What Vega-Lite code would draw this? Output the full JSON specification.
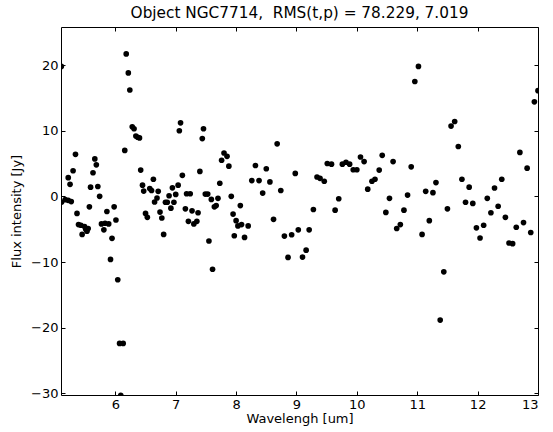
{
  "$schema": "https://vega.github.io/schema/vega-lite/v6.json",
  "width": 477,
  "height": 368,
  "autosize": "none",
  "padding": {"left": 61, "top": 27, "right": 15, "bottom": 37},
  "title": {"text": "Object NGC7714, \u00a0RMS(t,p) = 78.229, 7.019", "font": "DejaVu Sans", "fontSize": 15.3, "fontWeight": "normal", "color": "black", "offset": 5},
  "config": {
    "view": {"stroke": "black", "strokeWidth": 1},
    "axis": {"grid": false, "domain": false, "ticks": true, "tickColor": "black", "tickSize": -4, "tickWidth": 1, "labelFont": "DejaVu Sans", "labelFontSize": 13, "labelColor": "black", "titleFont": "DejaVu Sans", "titleFontSize": 13, "titleFontWeight": "normal", "titleColor": "black"}
  },
  "data": {"values": [
    {"w": 5.105, "f": 19.8}, {"w": 5.11, "f": -0.87}, {"w": 5.17, "f": -0.5}, {"w": 5.22, "f": -0.6}, {"w": 5.27, "f": -0.8},
    {"w": 5.22, "f": 2.85}, {"w": 5.25, "f": 1.83}, {"w": 5.30, "f": 3.9}, {"w": 5.34, "f": 6.4}, {"w": 5.365, "f": -2.6},
    {"w": 5.39, "f": -4.3}, {"w": 5.43, "f": -4.4}, {"w": 5.45, "f": -5.8}, {"w": 5.49, "f": -4.6}, {"w": 5.51, "f": -5.0},
    {"w": 5.53, "f": -5.3}, {"w": 5.55, "f": -4.9}, {"w": 5.57, "f": -1.6}, {"w": 5.59, "f": 1.4}, {"w": 5.63, "f": 3.6},
    {"w": 5.66, "f": 5.7}, {"w": 5.685, "f": 4.8}, {"w": 5.71, "f": 1.5}, {"w": 5.74, "f": 0.0}, {"w": 5.77, "f": -4.2},
    {"w": 5.81, "f": -5.1}, {"w": 5.83, "f": -4.1}, {"w": 5.86, "f": -2.3}, {"w": 5.89, "f": -4.2}, {"w": 5.92, "f": -9.6},
    {"w": 5.945, "f": -6.4}, {"w": 5.98, "f": -1.6}, {"w": 6.01, "f": -3.6}, {"w": 6.04, "f": -12.7}, {"w": 6.07, "f": -22.4},
    {"w": 6.09, "f": -30.3}, {"w": 6.13, "f": -22.4}, {"w": 6.156, "f": 7.0}, {"w": 6.18, "f": 21.7}, {"w": 6.215, "f": 18.8},
    {"w": 6.24, "f": 16.2}, {"w": 6.28, "f": 10.6}, {"w": 6.31, "f": 10.3}, {"w": 6.34, "f": 9.2}, {"w": 6.37, "f": 9.0},
    {"w": 6.40, "f": 8.9}, {"w": 6.42, "f": 4.0}, {"w": 6.45, "f": 1.7}, {"w": 6.47, "f": 0.8}, {"w": 6.50, "f": -2.6},
    {"w": 6.53, "f": -3.2}, {"w": 6.57, "f": 1.2}, {"w": 6.60, "f": 0.9}, {"w": 6.63, "f": 2.6}, {"w": 6.65, "f": -0.86},
    {"w": 6.69, "f": -0.25}, {"w": 6.71, "f": 0.76}, {"w": 6.74, "f": -2.4}, {"w": 6.77, "f": -3.3}, {"w": 6.80, "f": -5.8},
    {"w": 6.83, "f": -0.9}, {"w": 6.86, "f": -0.9}, {"w": 6.89, "f": 0.1}, {"w": 6.92, "f": -1.8}, {"w": 6.945, "f": 1.3},
    {"w": 6.97, "f": -0.9}, {"w": 7.0, "f": 0.3}, {"w": 7.04, "f": 1.7}, {"w": 7.06, "f": 10.0}, {"w": 7.08, "f": 11.2},
    {"w": 7.11, "f": 3.2}, {"w": 7.16, "f": -1.9}, {"w": 7.18, "f": 0.4}, {"w": 7.21, "f": -3.8}, {"w": 7.24, "f": 0.4},
    {"w": 7.27, "f": -2.2}, {"w": 7.30, "f": -4.2}, {"w": 7.35, "f": -3.8}, {"w": 7.37, "f": -2.5}, {"w": 7.40, "f": 3.8},
    {"w": 7.44, "f": 8.8}, {"w": 7.46, "f": 10.3}, {"w": 7.49, "f": 0.35}, {"w": 7.53, "f": 0.35}, {"w": 7.55, "f": -6.8},
    {"w": 7.59, "f": -0.46}, {"w": 7.61, "f": -11.1}, {"w": 7.64, "f": -1.6}, {"w": 7.67, "f": -1.4}, {"w": 7.70, "f": -0.3},
    {"w": 7.73, "f": 2.0}, {"w": 7.76, "f": 5.5}, {"w": 7.80, "f": 6.6}, {"w": 7.85, "f": 6.1}, {"w": 7.88, "f": 4.6},
    {"w": 7.92, "f": 0.0}, {"w": 7.95, "f": -2.7}, {"w": 7.97, "f": -6.0}, {"w": 8.0, "f": -3.7}, {"w": 8.03, "f": -4.5},
    {"w": 8.07, "f": -1.4}, {"w": 8.09, "f": -4.3}, {"w": 8.14, "f": -6.25}, {"w": 8.20, "f": -4.5}, {"w": 8.26, "f": 2.4},
    {"w": 8.32, "f": 4.7}, {"w": 8.38, "f": 2.4}, {"w": 8.44, "f": 0.5}, {"w": 8.50, "f": 4.2}, {"w": 8.56, "f": 2.2},
    {"w": 8.62, "f": -3.5}, {"w": 8.68, "f": 8.0}, {"w": 8.74, "f": 0.9}, {"w": 8.80, "f": -6.05}, {"w": 8.86, "f": -9.3},
    {"w": 8.92, "f": -5.85}, {"w": 8.98, "f": 3.5}, {"w": 9.03, "f": -5.1}, {"w": 9.10, "f": -9.25}, {"w": 9.16, "f": -8.2},
    {"w": 9.21, "f": -5.1}, {"w": 9.28, "f": -2.0}, {"w": 9.34, "f": 2.95}, {"w": 9.39, "f": 2.74}, {"w": 9.46, "f": 2.3},
    {"w": 9.51, "f": 5.0}, {"w": 9.58, "f": 4.9}, {"w": 9.64, "f": -2.1}, {"w": 9.70, "f": -0.36}, {"w": 9.76, "f": 4.9},
    {"w": 9.82, "f": 5.2}, {"w": 9.88, "f": 4.9}, {"w": 9.94, "f": 4.05}, {"w": 10.0, "f": 4.05}, {"w": 10.06, "f": 6.0},
    {"w": 10.12, "f": 5.3}, {"w": 10.18, "f": 1.1}, {"w": 10.25, "f": 2.3}, {"w": 10.30, "f": 2.6}, {"w": 10.37, "f": 4.0},
    {"w": 10.42, "f": 6.25}, {"w": 10.48, "f": -2.45}, {"w": 10.54, "f": -0.3}, {"w": 10.60, "f": 5.3}, {"w": 10.66, "f": -4.9},
    {"w": 10.72, "f": -4.3}, {"w": 10.78, "f": -2.1}, {"w": 10.84, "f": 0.2}, {"w": 10.90, "f": 4.5}, {"w": 10.96, "f": 17.5},
    {"w": 11.02, "f": 19.8}, {"w": 11.08, "f": -5.8}, {"w": 11.14, "f": 0.76}, {"w": 11.2, "f": -3.7}, {"w": 11.26, "f": 0.56},
    {"w": 11.31, "f": 2.1}, {"w": 11.38, "f": -18.85}, {"w": 11.44, "f": -11.5}, {"w": 11.50, "f": -1.9}, {"w": 11.56, "f": 10.7},
    {"w": 11.62, "f": 11.4}, {"w": 11.68, "f": 7.6}, {"w": 11.74, "f": 2.6}, {"w": 11.80, "f": -0.9}, {"w": 11.86, "f": 1.4},
    {"w": 11.92, "f": -1.07}, {"w": 11.98, "f": -4.8}, {"w": 12.04, "f": -6.35}, {"w": 12.10, "f": -4.4}, {"w": 12.16, "f": -0.3},
    {"w": 12.22, "f": -2.5}, {"w": 12.28, "f": 1.27}, {"w": 12.34, "f": -1.5}, {"w": 12.40, "f": 2.6}, {"w": 12.46, "f": -3.2},
    {"w": 12.52, "f": -7.1}, {"w": 12.58, "f": -7.2}, {"w": 12.64, "f": -4.7}, {"w": 12.70, "f": 6.7}, {"w": 12.76, "f": -4.0},
    {"w": 12.82, "f": 4.3}, {"w": 12.88, "f": -5.5}, {"w": 12.94, "f": 14.4}, {"w": 13.0, "f": 16.1}
  ]},
  "layer": [
    {
      "mark": {"type": "point", "filled": true, "color": "black", "opacity": 1, "size": 32, "clip": true},
      "encoding": {
        "x": {"field": "w", "type": "quantitative", "scale": {"domain": [5.1, 13], "nice": false, "zero": false}, "axis": {"orient": "bottom", "values": [6, 7, 8, 9, 10, 11, 12, 13], "title": "Wavelengh [um]", "labelPadding": 7, "titlePadding": 1}},
        "y": {"field": "f", "type": "quantitative", "scale": {"domain": [-30.26, 25.8], "nice": false, "zero": false}, "axis": {"orient": "left", "values": [-30, -20, -10, 0, 10, 20], "title": "Flux intensity [Jy]", "labelPadding": 7, "titlePadding": 7}}
      }
    },
    {
      "mark": {"type": "point", "filled": true, "color": "black", "opacity": 0, "size": 32},
      "encoding": {
        "x": {"field": "w", "type": "quantitative", "axis": {"orient": "top", "values": [6, 7, 8, 9, 10, 11, 12, 13], "labels": false, "title": null}},
        "y": {"field": "f", "type": "quantitative", "axis": {"orient": "right", "values": [-30, -20, -10, 0, 10, 20], "labels": false, "title": null}}
      }
    }
  ],
  "resolve": {"axis": {"x": "independent", "y": "independent"}}
}
